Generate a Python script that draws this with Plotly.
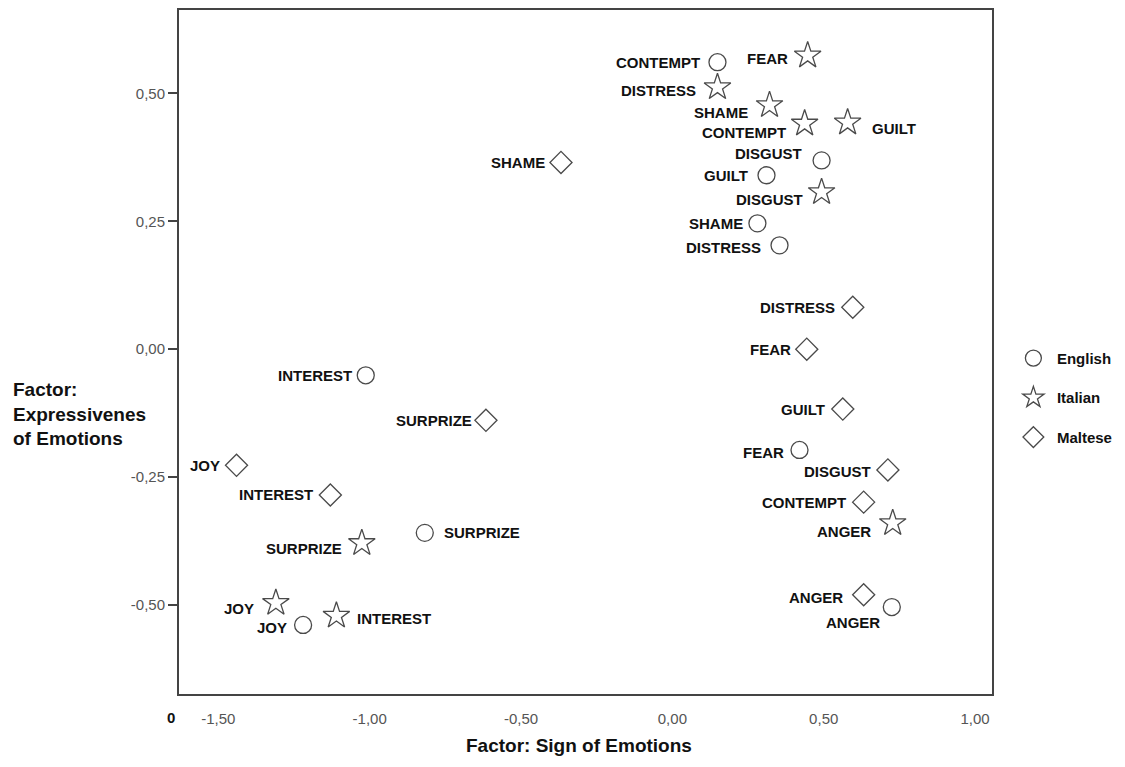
import plotly.graph_objects as go

# ---- data ----
english_labels = ["CONTEMPT", "DISGUST", "GUILT", "SHAME", "DISTRESS", "INTEREST", "FEAR", "SURPRIZE", "JOY", "ANGER"]
english_x = [0.149, 0.493, 0.311, 0.281, 0.354, -1.013, 0.420, -0.818, -1.220, 0.725]
english_y = [0.561, 0.369, 0.340, 0.246, 0.203, -0.051, -0.197, -0.359, -0.539, -0.504]

italian_labels = ["FEAR", "DISTRESS", "SHAME", "CONTEMPT", "GUILT", "DISGUST", "ANGER", "SURPRIZE", "JOY", "INTEREST"]
italian_x = [0.447, 0.149, 0.321, 0.437, 0.579, 0.493, 0.728, -1.026, -1.310, -1.110]
italian_y = [0.574, 0.512, 0.477, 0.441, 0.443, 0.307, -0.340, -0.379, -0.496, -0.521]

maltese_labels = ["SHAME", "DISTRESS", "FEAR", "GUILT", "SURPRIZE", "JOY", "DISGUST", "INTEREST", "CONTEMPT", "ANGER"]
maltese_x = [-0.368, 0.596, 0.444, 0.563, -0.616, -1.440, 0.712, -1.130, 0.632, 0.632]
maltese_y = [0.365, 0.082, 0.000, -0.117, -0.139, -0.227, -0.236, -0.285, -0.299, -0.480]

x_tickvals = [-1.5, -1.0, -0.5, 0.0, 0.5, 1.0]
x_ticktext = ["-1,50", "-1,00", "-0,50", "0,00", "0,50", "1,00"]
y_tickvals = [-0.5, -0.25, 0.0, 0.25, 0.5]
y_ticktext = ["-0,50", "-0,25", "0,00", "0,25", "0,50"]

# ---- label placement styles (pixel offsets: dx from marker centre, dy downwards) ----
english_off = [(-15, 0), (-18, -7), (-17, 0), (-12, 0), (-17, 2), (-12, 0), (-14, 3), (17, 0), (-14, 3), (-10, 15)]
italian_off = [(-18, 3), (-19, 3), (-20, 7), (-17, 9), (22, 6), (-17, 7), (-20, 8), (-18, 5), (-20, 6), (19, 3)]
maltese_off = [(-14, 0), (-16, 0), (-14, 0), (-16, 0), (-12, 0), (-15, 0), (-15, 2), (-15, 0), (-16, 0), (-19, 3)]

MARK_COLOR = "#4a4a4a"
FONT_FAMILY = "Liberation Sans, Arial, sans-serif"
LABEL_FONT = dict(family=FONT_FAMILY, size=15, color="#111111")

fig = go.Figure()

series = [
    ("English", "circle-open", 17, english_labels, english_x, english_y, english_off),
    ("Italian", "star-open", 20, italian_labels, italian_x, italian_y, italian_off),
    ("Maltese", "diamond-open", 17, maltese_labels, maltese_x, maltese_y, maltese_off),
]

annotations = []
for name, sym, size, labs, xs, ys, offs in series:
    fig.add_trace(go.Scatter(
        x=xs, y=ys, mode="markers", name=name, legendgroup=name,
        marker=dict(symbol=sym, size=size, color=MARK_COLOR, line=dict(width=1.3, color=MARK_COLOR)),
        hoverinfo="text", text=labs,
    ))
    for lab, xv, yv, (dx, dy) in zip(labs, xs, ys, offs):
        annotations.append(dict(
            x=xv, y=yv, xref="x", yref="y", text="<b>" + lab + "</b>", showarrow=False,
            xanchor="right" if dx < 0 else "left", yanchor="middle",
            xshift=dx, yshift=-dy, font=LABEL_FONT,
        ))

# axis titles and stray "0"
annotations.append(dict(
    xref="paper", yref="paper", x=-0.207, y=0.41, xanchor="left", yanchor="middle", align="left",
    text="<b>Factor:<br>Expressivenes<br>of Emotions</b>", showarrow=False,
    font=dict(family=FONT_FAMILY, size=19, color="#111111"),
))
annotations.append(dict(
    xref="paper", yref="paper", x=0.4925, y=-0.075, xanchor="center", yanchor="middle",
    text="<b>Factor: Sign of Emotions</b>", showarrow=False,
    font=dict(family=FONT_FAMILY, size=19, color="#111111"),
))
annotations.append(dict(
    xref="paper", yref="paper", x=-0.01, y=-0.034, xanchor="center", yanchor="middle",
    text="<b>0</b>", showarrow=False,
    font=dict(family=FONT_FAMILY, size=15, color="#111111"),
))

tick_font = dict(family=FONT_FAMILY, size=15, color="#555555")

# the page body adds an 8px offset; the figure size/margins compensate for it
fig.update_layout(
    width=1117, height=759,
    margin=dict(l=171, r=133, t=2, b=73),
    paper_bgcolor="white", plot_bgcolor="white",
    showlegend=True,
    legend=dict(
        x=1.022, y=0.433, xanchor="left", yanchor="middle",
        font=dict(family=FONT_FAMILY, size=15, color="#111111", weight="bold"),
        tracegroupgap=17, bgcolor="rgba(0,0,0,0)", itemwidth=37,
    ),
    annotations=annotations,
    xaxis=dict(
        range=[-1.63, 1.056], tickvals=x_tickvals, ticktext=x_ticktext,
        showgrid=False, zeroline=False, showline=True, linecolor="#444444", linewidth=2, mirror=True,
        ticks="", tickfont=tick_font, ticklabelstandoff=10, automargin=False,
    ),
    yaxis=dict(
        range=[-0.674, 0.663], tickvals=y_tickvals, ticktext=y_ticktext,
        showgrid=False, zeroline=False, showline=True, linecolor="#444444", linewidth=2, mirror=True,
        ticks="outside", ticklen=9, tickwidth=1.5, tickcolor="#444444", tickfont=tick_font,
        automargin=False,
    ),
)

fig.write_html("out.html")
